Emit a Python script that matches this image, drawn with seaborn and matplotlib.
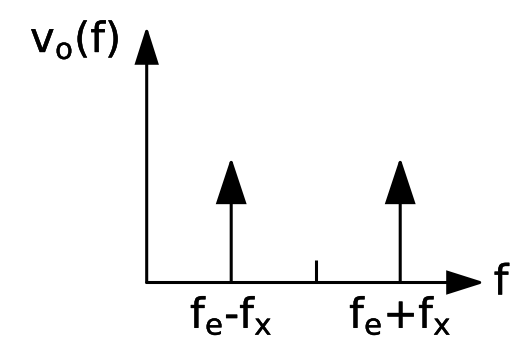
import matplotlib
matplotlib.use("Agg")
import matplotlib.pyplot as plt
import matplotlib.patheffects as pe
import seaborn as sns

# Spectrum of the output: two lines at f_e - f_x and f_e + f_x (f_e at 0)
line_freqs = [-1.0, 1.0]
line_amps = [1.0, 1.0]
line_labels = ["$f_e$-$f_x$", "$f_e$+$f_x$"]
center_tick = [0.0]
tick_height = 0.18
axis_start = [-2.0, 0.0]
axis_end_x = 2.0
axis_end_y = 2.05

sns.set_theme(style="white")
plt.rcParams["font.family"] = ["DejaVu Sans"]
plt.rcParams["mathtext.fontset"] = "custom"
plt.rcParams["mathtext.rm"] = "DejaVu Sans"
plt.rcParams["mathtext.it"] = "DejaVu Sans"
plt.rcParams["mathtext.default"] = "regular"

fig = plt.figure(figsize=(5.11, 3.45), dpi=100)
ax = fig.add_axes([0, 0, 1, 1])
ax.set_xlim(-3.736, 2.311)
ax.set_ylim(-0.5, 2.26)
ax.axis("off")

lw = 2.2
heavy = [pe.withStroke(linewidth=0.3, foreground="black")]
head_big = dict(arrowstyle="-|>,head_length=29,head_width=9.6",
                mutation_scale=1, lw=lw, color="black",
                shrinkA=0, shrinkB=0, joinstyle="miter")
head_axis = dict(arrowstyle="-|>,head_length=23,head_width=7.3",
                 mutation_scale=1, lw=lw, color="black",
                 shrinkA=0, shrinkB=0, joinstyle="miter")

# axes with arrowheads
ax.annotate("", xy=(axis_end_x, axis_start[1]), xytext=(axis_start[0], axis_start[1]),
            arrowprops=head_axis)
ax.annotate("", xy=(axis_start[0], axis_end_y), xytext=(axis_start[0], axis_start[1]),
            arrowprops=head_axis)

# center tick at f_e
ax.vlines(center_tick, 0, tick_height, color="black", lw=lw)

# spectral lines
for f, a, lab in zip(line_freqs, line_amps, line_labels):
    ax.annotate("", xy=(f, a), xytext=(f, 0), arrowprops=head_big)
    ax.annotate(lab, xy=(f, 0), xytext=(0, -8), textcoords="offset points",
                ha="center", va="top", fontsize=30, color="black",
                path_effects=heavy)

ax.text(30 / 511, 1 - 52 / 345, "$v_o$(f)", transform=ax.transAxes,
        ha="left", va="baseline", fontsize=30, color="black", path_effects=heavy)
ax.annotate("f", xy=(axis_end_x, 0), xytext=(6.5, 0), textcoords="offset points",
            ha="left", va="center", fontsize=30, color="black", path_effects=heavy)

fig.savefig("out.png", dpi=100)
